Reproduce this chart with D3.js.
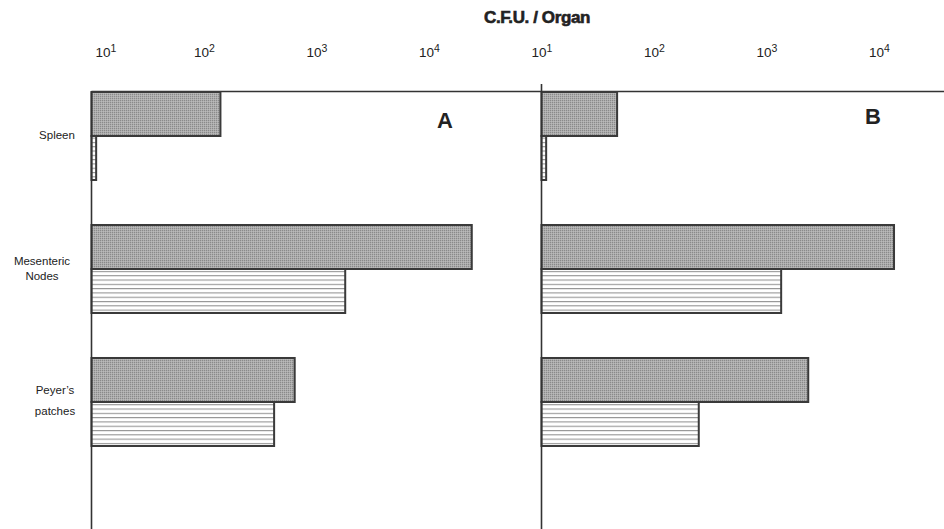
<!DOCTYPE html>
<html>
<head>
<meta charset="utf-8">
<script src="https://cdn.jsdelivr.net/npm/d3@7"></script>
<style>
  html, body { margin: 0; padding: 0; background: #fff; }
  svg { display: block; }
  text { font-family: "Liberation Sans", Arial, sans-serif; fill: #222; }
</style>
</head>
<body>
<div id="chart"></div>
<script>
// Colony-forming units recovered per organ, two experiments (A and B)
const organs = ["Spleen", "Mesenteric Nodes", "Peyer\u2019s patches"];
const organLabelLines = [["Spleen"], ["Mesenteric", "Nodes"], ["Peyer\u2019s", "patches"]];
const seriesKeys = ["stippled", "hatched"];

const panelAStippled = [140, 24000, 640];
const panelAHatched = [11, 1800, 420];
const panelBStippled = [47, 13600, 2350];
const panelBHatched = [11, 1350, 250];

const tickValues = [10, 100, 1000, 10000];
const tickExponents = ["1", "2", "3", "4"];

const panelNames = ["A", "B"];
const axisTitle = "C.F.U. / Organ";

const W = 944, H = 529;
const svg = d3.select("#chart").append("svg").attr("width", W).attr("height", H);
const defs = svg.append("defs");

// fine stipple texture for the solid-grey bars
const stip = defs.append("pattern").attr("id", "stipple")
  .attr("patternUnits", "userSpaceOnUse").attr("width", 2).attr("height", 2);
stip.append("rect").attr("width", 2).attr("height", 2).attr("fill", "#acacac");
stip.append("rect").attr("width", 1).attr("height", 1).attr("fill", "#8a8a8a");
stip.append("rect").attr("x", 1).attr("y", 1).attr("width", 1).attr("height", 1).attr("fill", "#bababa");

// horizontal ruling for the open bars
const hatch = defs.append("pattern").attr("id", "hatch")
  .attr("patternUnits", "userSpaceOnUse").attr("width", 8).attr("height", 4.3);
hatch.append("rect").attr("width", 8).attr("height", 4.3).attr("fill", "#fff");
hatch.append("line").attr("x1", 0).attr("x2", 8).attr("y1", 0.6).attr("y2", 0.6)
  .attr("stroke", "#7c7c7c").attr("stroke-width", 0.9);

const panels = [
  { name: panelNames[0], values: { stippled: panelAStippled, hatched: panelAHatched },
    x: d3.scaleLog().domain([10, 1e5]).range([91.5, 541.5]), nameX: 445, nameY: 128, axisTop: 91.5, firstTickDx: 14 },
  { name: panelNames[1], values: { stippled: panelBStippled, hatched: panelBHatched },
    x: d3.scaleLog().domain([10, 1e5]).range([541.5, 991.5]), nameX: 873, nameY: 124, axisTop: 84, firstTickDx: 0 }
];

const y = d3.scaleBand().domain(organs).range([92, 446]).paddingInner(0.3383).paddingOuter(0);
const ySub = d3.scaleBand().domain(seriesKeys).range([0, y.bandwidth()]);

// top reference line across both panels
svg.append("line")
  .attr("x1", panels[0].x(10)).attr("x2", W)
  .attr("y1", 91.5).attr("y2", 91.5)
  .attr("stroke", "#333").attr("stroke-width", 1.6);

panels.forEach(p => {
  const g = svg.append("g");

  // bars
  organs.forEach((organ, i) => {
    seriesKeys.forEach(key => {
      const v = p.values[key][i];
      g.append("rect")
        .attr("x", p.x(10))
        .attr("y", y(organ) + ySub(key))
        .attr("width", p.x(v) - p.x(10))
        .attr("height", ySub.bandwidth())
        .attr("fill", key === "stippled" ? "url(#stipple)" : "url(#hatch)")
        .attr("stroke", "#3a3a3a")
        .attr("stroke-width", 2);
    });
  });

  // vertical baseline
  g.append("line")
    .attr("x1", p.x(10)).attr("x2", p.x(10))
    .attr("y1", p.axisTop).attr("y2", H)
    .attr("stroke", "#333").attr("stroke-width", 1.6);

  // tick labels as powers of ten
  const axis = d3.axisTop(p.x).tickValues(tickValues).tickSize(0).tickPadding(35).tickFormat(() => "");
  const ag = g.append("g").attr("transform", "translate(0,91.5)").call(axis);
  ag.select(".domain").remove();
  ag.selectAll(".tick text").each(function (d, i) {
    const t = d3.select(this)
      .attr("font-size", 13.5).attr("fill", "#222")
      .attr("font-family", "'Liberation Sans', Arial, sans-serif")
      .attr("dx", i === 0 ? p.firstTickDx : 0);
    t.text("10");
    t.append("tspan").attr("font-size", 10.5).attr("dy", -5).text(tickExponents[i]);
  });

  // panel letter
  g.append("text")
    .attr("x", p.nameX).attr("y", p.nameY)
    .attr("text-anchor", "middle")
    .attr("font-size", 22).attr("font-weight", "bold")
    .text(p.name);
});

// organ labels
const labelCx = [57, 42, 55];
const labelGap = [0, 15, 21];
organs.forEach((organ, i) => {
  const lines = organLabelLines[i];
  const cy = y(organ) + y.bandwidth() / 2 - 1;
  const t = svg.append("text")
    .attr("text-anchor", "middle")
    .attr("font-size", 11.5);
  lines.forEach((ln, j) => {
    const off = (j - (lines.length - 1) / 2) * labelGap[i];
    t.append("tspan").attr("x", labelCx[i]).attr("y", cy + off + 4).text(ln);
  });
});

// axis title
svg.append("text")
  .attr("x", 537).attr("y", 23)
  .attr("text-anchor", "middle")
  .attr("font-family", "'Liberation Sans Narrow', 'Liberation Sans', Arial, sans-serif")
  .attr("font-size", 17).attr("font-weight", "bold")
  .attr("stroke", "#222").attr("stroke-width", 0.6)
  .attr("letter-spacing", -0.4)
  .text(axisTitle);
</script>
</body>
</html>
